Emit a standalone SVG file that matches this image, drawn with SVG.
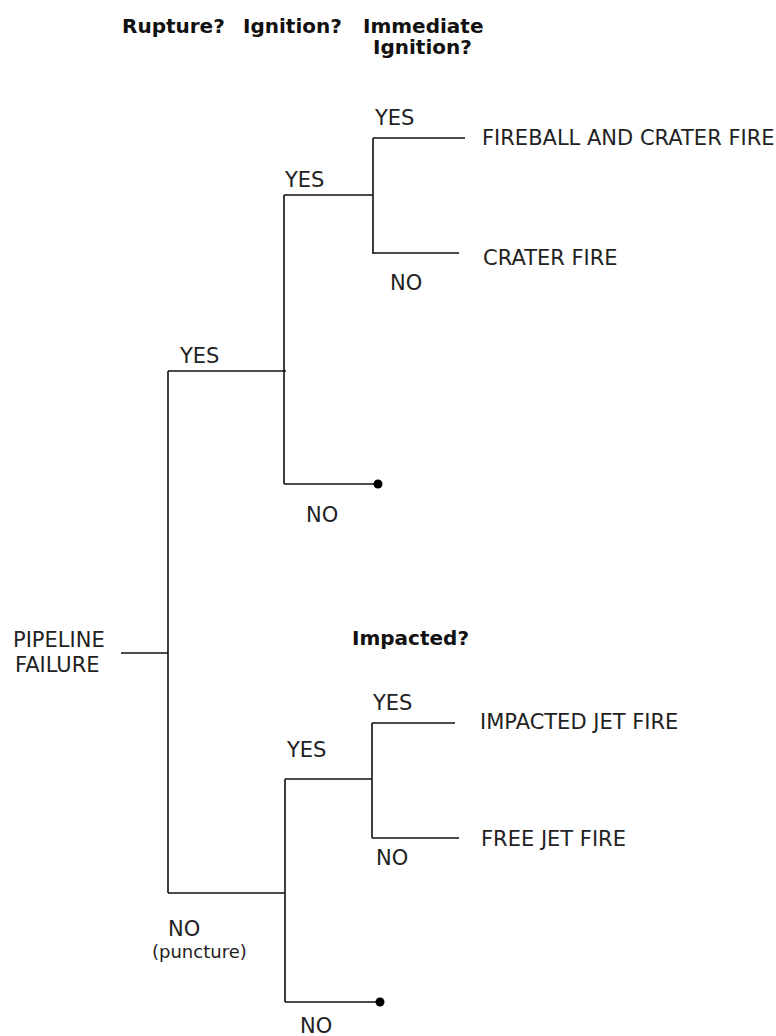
<svg xmlns="http://www.w3.org/2000/svg" width="776" height="1036" viewBox="0 0 776 1036">
<style>
.t{font-family:"DejaVu Sans",Verdana,sans-serif;font-size:21px;fill:#222}
.h{font-family:"DejaVu Sans",Verdana,sans-serif;font-size:20px;font-weight:bold;fill:#111}
.l{fill:none;stroke:#111;stroke-width:1.6}
.d{fill:#000}
</style>
<rect width="776" height="1036" fill="#fff"/>
<g id="headers">
<text class="h" x="122" y="33">Rupture?</text>
<text class="h" x="243" y="33">Ignition?</text>
<text class="h" x="363" y="33">Immediate</text>
<text class="h" x="373" y="54">Ignition?</text>
<text class="h" x="352" y="645">Impacted?</text>
</g>
<g id="connectors">
<path class="l" d="M121 653H168M168 371V893M168 371H286M284 195V484M284 484H378M284 195H373M373 138V254M373 138H465M373 253H459"/>
<path class="l" d="M168 893H285M285 779V1002M285 1002H380M285 779H372M372 723V838M372 723H455M372 838H459"/>
<circle class="d" cx="378" cy="484" r="4.5"/>
<circle class="d" cx="380" cy="1002" r="4.5"/>
</g>
<g id="labels">
<text class="t" x="375" y="125">YES</text>
<text class="t" x="285" y="187">YES</text>
<text class="t" x="390" y="290">NO</text>
<text class="t" x="180" y="363">YES</text>
<text class="t" x="306" y="522">NO</text>
<text class="t" x="373" y="710">YES</text>
<text class="t" x="287" y="757">YES</text>
<text class="t" x="376" y="865">NO</text>
<text class="t" x="168" y="936">NO</text>
<text class="t" x="152" y="958" style="font-size:18px">(puncture)</text>
<text class="t" x="300" y="1033">NO</text>
</g>
<g id="node-pipeline-failure">
<text class="t" x="13" y="647">PIPELINE</text>
<text class="t" x="15" y="672">FAILURE</text>
</g>
<g id="node-fireball">
<text class="t" x="482" y="145">FIREBALL AND CRATER FIRE</text>
</g>
<g id="node-crater-fire">
<text class="t" x="483" y="265">CRATER FIRE</text>
</g>
<g id="node-impacted-jet-fire">
<text class="t" x="480" y="729">IMPACTED JET FIRE</text>
</g>
<g id="node-free-jet-fire">
<text class="t" x="481" y="846">FREE JET FIRE</text>
</g>
</svg>
